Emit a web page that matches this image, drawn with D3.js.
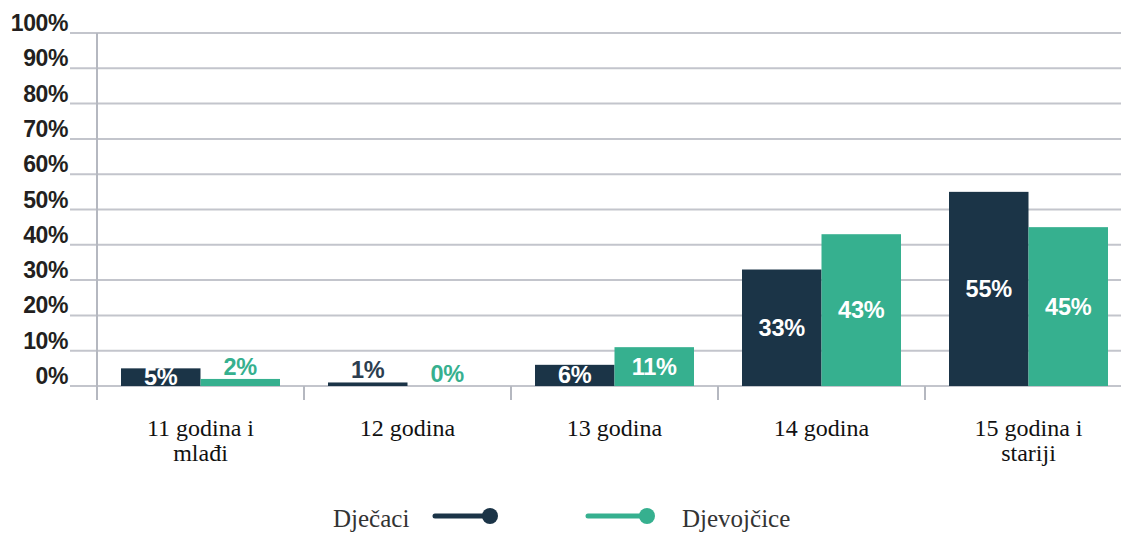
<!DOCTYPE html>
<html><head><meta charset="utf-8">
<script src="https://cdn.jsdelivr.net/npm/d3@7"></script>
<style>body{margin:0;background:#fff}svg{display:block}
.serif{font-family:"Liberation Serif","Times New Roman",Times,Tinos,"DejaVu Serif","Noto Serif",serif}
.sans{font-family:"Liberation Sans",Arial,sans-serif}</style>
</head><body>
<svg id="c" width="1121" height="533"></svg>
<script>
const categories = [["11 godina i","mlađi"],["12 godina"],["13 godina"],["14 godina"],["15 godina i","stariji"]];
const seriesNames = ["Dječaci","Djevojčice"];
const boys = [5,1,6,33,55];
const girls = [2,0,11,43,45];
const yTicks = [0,10,20,30,40,50,60,70,80,90,100];
const colors = ["#1b3447","#36b08f"];

const svg = d3.select("#c");
const keys = categories.map((c,i)=>"c"+i);
const x = d3.scaleBand().domain(keys).range([97,1132]).padding(0);
const x1 = d3.scaleBand().domain(seriesNames).range([0,x.bandwidth()]).paddingInner(0).paddingOuter(0.302);
const y = d3.scaleLinear().domain([0,100]).range([386,33]);

svg.append("g").selectAll("line").data(yTicks).join("line")
  .attr("x1",70).attr("x2",1121).attr("y1",d=>y(d)).attr("y2",d=>y(d))
  .attr("stroke","#c3c5cc").attr("stroke-width",2);
svg.append("g").selectAll("text").data(yTicks).join("text")
  .attr("class","sans")
  .attr("x",68).attr("y",d=>y(d)-2).attr("text-anchor","end")
  .attr("font-weight","bold")
  .attr("font-size",23).attr("fill","#231f20").attr("letter-spacing","-0.4")
  .text(d=>d+"%");
svg.append("line").attr("x1",97).attr("x2",97).attr("y1",y(100)).attr("y2",400)
  .attr("stroke","#b5b8c0").attr("stroke-width",2);
svg.append("g").selectAll("line").data(keys.slice(1)).join("line")
  .attr("x1",d=>x(d)).attr("x2",d=>x(d)).attr("y1",y(0)).attr("y2",400)
  .attr("stroke","#b5b8c0").attr("stroke-width",2);

const data = [];
keys.forEach((k,i)=>{
  data.push({k,s:seriesNames[0],v:boys[i],ci:0});
  data.push({k,s:seriesNames[1],v:girls[i],ci:1});
});
svg.append("g").selectAll("rect").data(data).join("rect")
  .attr("x",d=>x(d.k)+x1(d.s)).attr("width",x1.bandwidth())
  .attr("y",d=>y(d.v)).attr("height",d=>y(0)-y(d.v))
  .attr("fill",d=>colors[d.ci]);
svg.append("g").selectAll("text").data(data).join("text")
  .attr("class","sans")
  .attr("x",d=>x(d.k)+x1(d.s)+x1.bandwidth()/2)
  .attr("y",d=>d.v>=5 ? (y(d.v)+y(0))/2+8 : y(d.v)-4)
  .attr("text-anchor","middle")
  .attr("font-weight","bold")
  .attr("font-size",23.5).attr("letter-spacing","-0.2")
  .attr("fill",d=>d.v>=5 ? "#ffffff" : (d.ci===0 ? "#2c3e50" : colors[1]))
  .text(d=>d.v+"%");

const cat = svg.append("g").selectAll("text").data(keys).join("text")
  .attr("class","serif")
  .attr("x",d=>x(d)+x.bandwidth()/2).attr("y",436).attr("text-anchor","middle")
  .attr("font-size",24).attr("fill","#111");
cat.each(function(d,i){
  const t = d3.select(this);
  categories[i].forEach((line,j)=>{
    t.append("tspan").attr("x",x(d)+x.bandwidth()/2).attr("dy",j===0?0:25).text(line);
  });
});

const legend = [{name:seriesNames[0],tx:333,lx1:435,cx:490},
                {name:seriesNames[1],tx:682,lx1:588,cx:647}];
const lg = svg.append("g").selectAll("g").data(legend).join("g");
lg.append("line").attr("x1",d=>d.lx1).attr("x2",d=>d.cx).attr("y1",516).attr("y2",516)
  .attr("stroke",(d,i)=>colors[i]).attr("stroke-width",5).attr("stroke-linecap","round");
lg.append("circle").attr("cx",d=>d.cx).attr("cy",516).attr("r",8).attr("fill",(d,i)=>colors[i]);
lg.append("text").attr("class","serif").attr("x",d=>d.tx).attr("y",527)
  .attr("font-size",25).attr("fill","#333").text(d=>d.name);
</script>
</body></html>
